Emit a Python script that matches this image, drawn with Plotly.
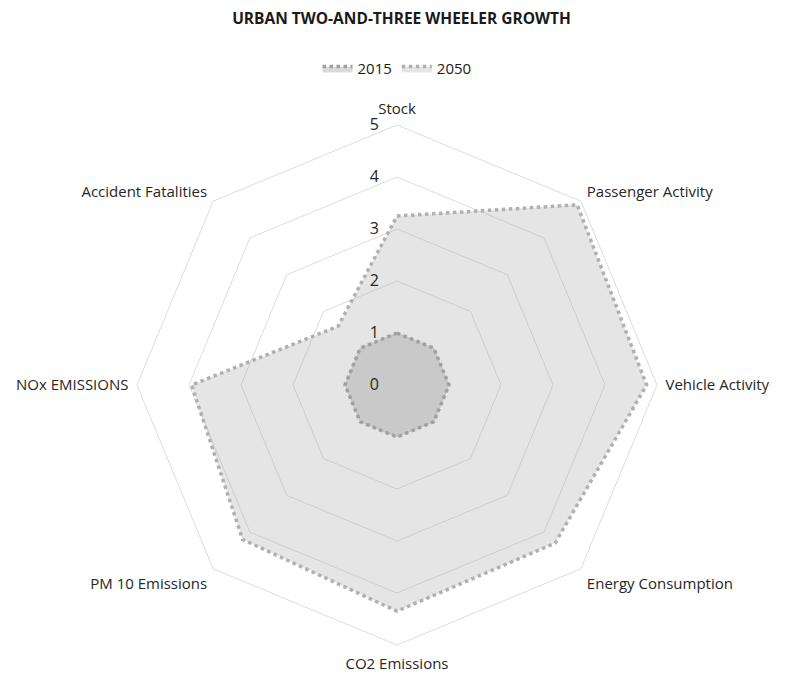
import plotly.graph_objects as go

# categories clockwise from the top
categories = [
    "Stock",
    "Passenger Activity",
    "Vehicle Activity",
    "Energy Consumption",
    "CO2 Emissions",
    "PM 10 Emissions",
    "NOx EMISSIONS",
    "Accident Fatalities",
]
values_2015 = [1, 1, 1, 1, 1, 1, 1, 1]
values_2050 = [3.25, 4.9, 4.8, 4.3, 4.35, 4.2, 3.95, 1.6]
radial_ticks = [0, 1, 2, 3, 4, 5]

FONT = "'Open Sans', Lato, sans-serif"
GRID = "#d8dde3"

fig = go.Figure()

# 2050 first so that 2015 sits on top
fig.add_trace(go.Scatterpolar(
    r=values_2050 + values_2050[:1],
    theta=categories + categories[:1],
    name="2050",
    mode="lines",
    fill="toself",
    fillcolor="rgba(170,170,170,0.3)",
    line=dict(color="#b0b0b0", width=3.5, dash="dot"),
))
fig.add_trace(go.Scatterpolar(
    r=values_2015 + values_2015[:1],
    theta=categories + categories[:1],
    name="2015",
    mode="lines",
    fill="toself",
    fillcolor="rgba(150,150,150,0.35)",
    line=dict(color="#a0a0a0", width=3.5, dash="dot"),
))

fig.update_layout(
    width=787,
    height=680,
    paper_bgcolor="white",
    plot_bgcolor="white",
    font=dict(family=FONT, size=15, color="#262626"),
    margin=dict(l=129, r=138, t=117, b=43),
    title=dict(
        text="<b>URBAN TWO-AND-THREE WHEELER GROWTH</b>",
        x=0.5, xanchor="center",
        y=0.985, yanchor="middle",
        font=dict(size=15.5, color="#1a1a1a"),
    ),
    legend=dict(
        orientation="h",
        x=0.5, xanchor="center",
        y=1.108, yanchor="middle",
        traceorder="reversed",
        font=dict(size=15, color="#1a1a1a"),
        itemwidth=30,
    ),
    polar=dict(
        bgcolor="white",
        gridshape="linear",
        domain=dict(x=[0, 1], y=[0, 1]),
        radialaxis=dict(
            range=[0, 5],
            tickvals=radial_ticks,
            ticktext=[str(t) for t in radial_ticks],
            angle=90,
            tickangle=90,
            side="counterclockwise",
            showline=False,
            ticks="outside",
            ticklen=12,
            tickcolor="rgba(0,0,0,0)",
            gridcolor=GRID,
            gridwidth=1,
            tickfont=dict(size=16, color="#262626"),
        ),
        angularaxis=dict(
            rotation=90,
            direction="clockwise",
            showgrid=False,
            showline=True,
            linecolor=GRID,
            linewidth=1,
            ticks="outside",
            ticklen=5,
            tickcolor="rgba(0,0,0,0)",
            tickfont=dict(size=15, color="#262626"),
        ),
    ),
)

fig.write_html("out.html")
